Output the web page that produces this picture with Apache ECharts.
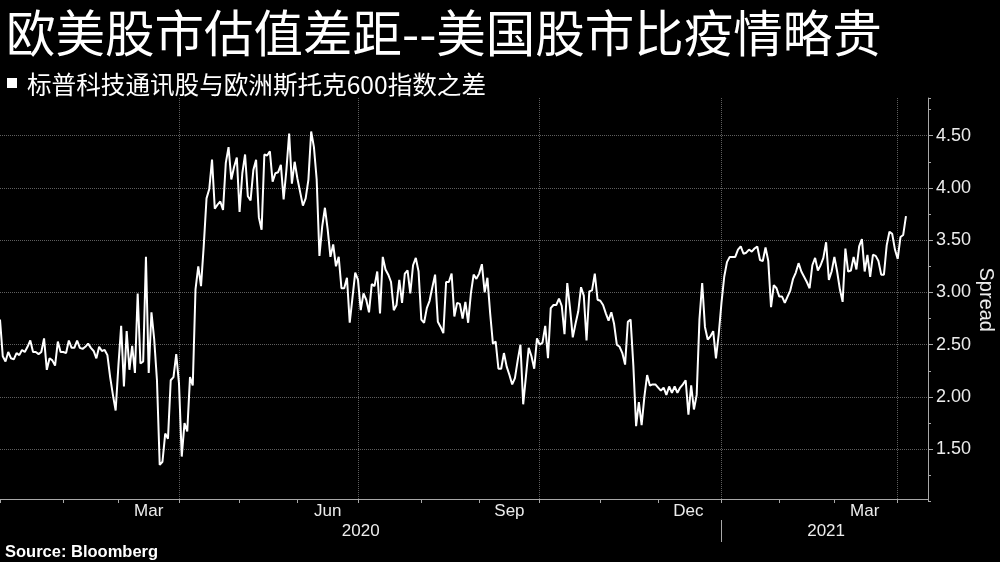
<!DOCTYPE html>
<html>
<head>
<meta charset="utf-8">
<script src="https://cdn.jsdelivr.net/npm/echarts@6/dist/echarts.min.js"></script>
<style>
html,body{margin:0;padding:0;background:#000;}
#chart{width:1000px;height:562px;}
</style>
</head>
<body>
<div id="chart"></div>
<script>
// ---- texts ----
const titleText = '欧美股市估值差距--美国股市比疫情略贵';
const subtitleText = '标普科技通讯股与欧洲斯托克600指数之差';
const sourceText = 'Source: Bloomberg';
const axisName = 'Spread';

// ---- axis settings ----
const startDate = '2020-01-01';
const endDate = '2021-04-16';
const labelMonths = ['Mar', 'Jun', 'Sep', 'Dec'];
const monthNames = ['Jan','Feb','Mar','Apr','May','Jun','Jul','Aug','Sep','Oct','Nov','Dec'];
const yMin = 1.0, yMax = 4.86, yStep = 0.5, yMinorStep = 0.25;

// ---- daily (business-day) spread values ----
const q1_2020 = [2.74,2.39,2.34,2.43,2.37,2.36,2.42,2.40,2.45,2.43,2.48,2.54,2.43,2.43,2.41,2.43,2.56,2.26,2.37,2.35,2.30,2.53,2.43,
  2.43,2.42,2.54,2.47,2.47,2.54,2.47,2.46,2.48,2.51,2.47,2.44,2.37,2.48,2.44,2.45,2.40,2.19,2.02,1.87,
  2.30,2.68,2.10,2.63,2.26,2.49,2.23,2.99,2.32,2.34,3.34,2.23,2.81,2.55,2.16,1.35,1.38,1.65,1.60,2.16,2.19,2.41];
const q2_2020 = [2.13,1.43,1.75,1.67,2.19,2.11,3.03,3.25,3.06,3.45,3.90,3.99,4.27,3.80,3.84,3.87,3.79,4.24,4.39,4.08,4.20,4.29,
  3.77,4.14,4.32,3.92,3.88,4.17,4.27,3.72,3.60,4.32,4.31,4.35,4.06,4.14,4.15,4.22,3.89,4.17,4.52,4.04,4.25,
  4.09,3.96,3.83,3.90,4.08,4.54,4.39,4.08,3.35,3.63,3.81,3.60,3.34,3.46,3.25,3.34,3.04,3.04,3.14,2.71,2.95,3.19];
const q3_2020 = [3.12,2.83,2.99,2.93,2.81,3.08,3.06,3.20,2.80,3.34,3.22,3.17,3.10,2.83,2.88,3.12,2.90,3.18,3.21,2.99,3.26,3.33,3.20,
  2.74,2.71,2.85,2.92,3.05,3.17,2.72,2.67,2.61,3.10,3.10,3.18,2.77,2.90,2.89,2.75,2.91,2.71,2.99,3.17,3.13,
  3.18,3.27,3.00,3.14,2.80,2.51,2.53,2.27,2.27,2.42,2.29,2.21,2.12,2.18,2.35,2.50,1.93,2.20,2.47,2.39,2.27,2.56];
const q4_2020 = [2.50,2.52,2.68,2.37,2.85,2.88,2.88,2.94,2.87,2.60,3.09,2.85,2.57,2.70,2.82,3.05,2.97,2.54,3.01,3.02,3.18,2.93,
  2.92,2.88,2.80,2.73,2.81,2.70,2.50,2.48,2.42,2.31,2.72,2.74,2.30,1.72,1.95,1.73,2.00,2.21,2.11,2.12,2.12,
  2.09,2.06,2.09,2.02,2.10,2.04,2.10,2.04,2.09,2.12,2.16,1.83,2.11,1.88,2.02,2.74,3.09,2.67,2.55,2.58,2.63,2.37,2.60];
const q1_2021 = [2.90,3.15,3.29,3.34,3.34,3.34,3.41,3.44,3.37,3.38,3.41,3.39,3.42,3.44,3.31,3.30,3.43,3.30,2.86,3.07,3.04,
  2.96,2.96,2.90,2.96,3.02,3.13,3.19,3.28,3.20,3.15,3.10,3.04,3.26,3.33,3.21,3.26,3.33,3.48,3.12,3.20,
  3.34,3.20,3.03,2.91,3.42,3.20,3.21,3.34,3.22,3.44,3.51,3.20,3.36,3.15,3.36,3.35,3.30,3.17,3.17,3.45,3.58,3.56,3.41];
const apr_2021 = [3.32,3.53,3.55,3.73];

// ---- build business-day categories ----
function businessDays(start, end) {
  const out = [];
  const d = new Date(start + 'T00:00:00Z');
  const e = new Date(end + 'T00:00:00Z');
  while (d <= e) {
    const wd = d.getUTCDay();
    if (wd !== 0 && wd !== 6) out.push(d.toISOString().slice(0, 10));
    d.setUTCDate(d.getUTCDate() + 1);
  }
  return out;
}
const days = businessDays(startDate, endDate);
const values = [].concat(q1_2020, q2_2020, q3_2020, q4_2020, q1_2021, apr_2021);

const monthStart = new Set();
const quarterStart = new Set();
const monthLabel = new Set();
const yearLabel = new Set();
let yearBreak = -1;
(function () {
  const months = {};
  const years = {};
  days.forEach((d, i) => {
    const ym = d.slice(0, 7), y = d.slice(0, 4);
    (months[ym] = months[ym] || []).push(i);
    (years[y] = years[y] || []).push(i);
    if (i === 0 || days[i - 1].slice(0, 7) !== ym) {
      monthStart.add(i);
      const m = +d.slice(5, 7);
      if (i > 0 && (m - 1) % 3 === 0) quarterStart.add(i);
    }
    if (i > 0 && days[i - 1].slice(0, 4) !== y) yearBreak = i;
  });
  Object.keys(months).forEach(k => {
    const idx = months[k];
    const name = monthNames[+k.slice(5, 7) - 1];
    if (labelMonths.includes(name)) monthLabel.add(idx[0] + Math.floor(idx.length / 2));
  });
  Object.keys(years).forEach(k => {
    const idx = years[k];
    yearLabel.add(Math.round((idx[0] + idx[idx.length - 1] + 1) / 2));
  });
})();

const gridColor = '#5e5e5e';
const axisColor = '#a8a8a8';
const textColor = '#ececec';
const latin = 'Liberation Sans';
const cjk = 'Noto Sans CJK SC';

const chart = echarts.init(document.getElementById('chart'), null, {renderer: 'canvas'});
chart.setOption({
  backgroundColor: '#000',
  animation: false,
  title: [
    {text: titleText, left: 6, top: 8, padding: 0,
     textStyle: {color: '#fff', fontSize: 49.5, fontFamily: cjk, fontWeight: 'normal'}},
    {text: subtitleText, left: 27, top: 72, padding: 0,
     textStyle: {color: '#fff', fontSize: 24.6, fontFamily: cjk, fontWeight: 'normal'}},
    {text: sourceText, left: 5, top: 544, padding: 0,
     textStyle: {color: '#fff', fontSize: 16.5, fontFamily: latin, fontWeight: 'bold'}}
  ],
  graphic: [
    {type: 'rect', left: 7, top: 78, shape: {width: 10, height: 10}, style: {fill: '#fff'}}
  ],
  grid: {left: 0, right: 72, top: 98, bottom: 60.5, containLabel: false, outerBoundsMode: 'none'},
  xAxis: [
    {
      type: 'category', data: days, boundaryGap: false, position: 'bottom', offset: -2.5,
      axisLine: {show: true, lineStyle: {color: axisColor, width: 1}},
      axisTick: {show: true, interval: i => monthStart.has(i), length: 4, lineStyle: {color: axisColor}},
      axisLabel: {show: true, interval: i => monthLabel.has(i),
        formatter: v => monthNames[+v.slice(5, 7) - 1],
        color: textColor, fontSize: 17, fontFamily: latin, margin: 4},
      splitLine: {show: true, interval: i => quarterStart.has(i), lineStyle: {color: gridColor, type: 'dotted', width: 1}}
    },
    {
      type: 'category', data: days, boundaryGap: false, position: 'bottom', offset: 18.5,
      axisLine: {show: false},
      axisTick: {show: true, interval: i => i === yearBreak, length: 22, lineStyle: {color: axisColor}},
      axisLabel: {show: true, interval: i => yearLabel.has(i), formatter: v => v.slice(0, 4),
        color: textColor, fontSize: 17, fontFamily: latin, margin: 3},
      splitLine: {show: false}
    }
  ],
  yAxis: [
    {
      type: 'value', position: 'right', min: yMin, max: yMax, interval: yStep,
      axisLine: {show: true, lineStyle: {color: axisColor, width: 1}},
      axisTick: {show: true, length: 5, lineStyle: {color: axisColor}},
      axisLabel: {show: true, color: textColor, fontSize: 18, fontFamily: latin, margin: 8,
        showMinLabel: false, showMaxLabel: false, formatter: v => v.toFixed(2)},
      splitLine: {show: true, showMinLine: false, showMaxLine: false,
        lineStyle: {color: gridColor, type: 'dotted', width: 1}},
      name: axisName, nameLocation: 'middle', nameRotate: -90, nameGap: 48, nameMoveOverlap: false,
      nameTextStyle: {color: textColor, fontSize: 20, fontFamily: latin}
    },
    {
      type: 'value', position: 'right', min: yMin, max: yMax, interval: yMinorStep,
      axisLine: {show: false},
      axisTick: {show: true, length: 3, lineStyle: {color: axisColor}},
      axisLabel: {show: false},
      splitLine: {show: false}
    }
  ],
  series: [
    {
      type: 'line', xAxisIndex: 0, yAxisIndex: 0, data: values,
      showSymbol: false, symbol: 'none', connectNulls: true,
      lineStyle: {color: '#fff', width: 2}
    }
  ]
});
</script>
</body>
</html>
